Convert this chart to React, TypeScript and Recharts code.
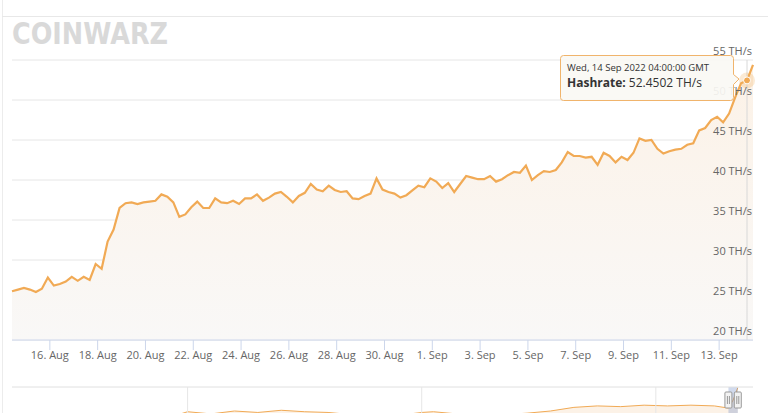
import { AreaChart, Area, XAxis, YAxis, CartesianGrid, Tooltip, ReferenceLine, ReferenceArea } from "recharts"

// hashrate samples, every 6 hours from 14 Aug 2022 10:00 GMT
const START = Date.UTC(2022, 7, 14, 10)
const STEP = 6 * 3600 * 1000

const hashrate = [
  26.1, 26.3, 26.5, 26.3, 26.0, 26.4, 27.8, 26.8, 27.0, 27.3,
  27.9, 27.4, 27.9, 27.5, 29.5, 28.9, 32.3, 33.8, 36.5, 37.1,
  37.2, 37.0, 37.2, 37.3, 37.4, 38.2, 37.9, 37.2, 35.4, 35.7,
  36.6, 37.3, 36.5, 36.5, 37.7, 37.2, 37.1, 37.4, 37.0, 37.7,
  37.7, 38.2, 37.4, 37.8, 38.3, 38.5, 37.9, 37.2, 38.0, 38.4,
  39.5, 38.8, 38.6, 39.3, 38.75, 38.5, 38.6, 37.7, 37.6, 38.0,
  38.3, 40.2, 38.8, 38.5, 38.3, 37.8, 38.1, 38.7, 39.3, 39.1,
  40.2, 39.8, 39.0, 39.6, 38.5, 39.5, 40.5, 40.3, 40.1, 40.1,
  40.5, 39.8, 40.1, 40.6, 41.0, 40.9, 41.8, 40.0, 40.6, 41.1,
  41.0, 41.25, 42.2, 43.5, 43.0, 43.0, 42.8, 42.9, 41.9, 43.4,
  43.0, 42.2, 42.9, 42.5, 43.4, 45.2, 44.9, 45.0, 43.9, 43.3,
  43.6, 43.8, 43.9, 44.4, 44.6, 46.2, 46.5, 47.5, 47.9, 47.2,
  48.3, 50.3, 52.1, 52.4502, 54.4,
]

const xTickDates = [
  "2022-08-16", "2022-08-18", "2022-08-20", "2022-08-22", "2022-08-24",
  "2022-08-26", "2022-08-28", "2022-08-30", "2022-09-01", "2022-09-03",
  "2022-09-05", "2022-09-07", "2022-09-09", "2022-09-11", "2022-09-13",
]
const yTicks = [20, 25, 30, 35, 40, 45, 50, 55]
const MONTHS = ["Jan", "Feb", "Mar", "Apr", "May", "Jun", "Jul", "Aug", "Sep", "Oct", "Nov", "Dec"]

// navigator: long history (year, TH/s)
const navYears = [
  2016.5, 2016.8, 2017.0, 2017.3, 2017.6, 2017.9, 2018.0, 2018.2, 2018.4, 2018.6,
  2018.8, 2019.0, 2019.2, 2019.4, 2019.6, 2019.8, 2020.0, 2020.1, 2020.3, 2020.5,
  2020.7, 2020.9, 2021.1, 2021.3, 2021.5, 2021.7, 2021.9, 2022.1, 2022.3, 2022.5,
  2022.62, 2022.66, 2022.7,
]
const navValues = [
  5, 6, 7, 9, 12, 16, 21, 18, 22, 20,
  23, 21, 20, 17, 14, 16, 20, 21, 18, 16,
  17, 19, 22, 27, 29, 28, 30, 29, 30, 29,
  26, 37, 54,
]
const navYearLines = [2018, 2020, 2022]

const data = hashrate.map((v, i) => ({ t: START + i * STEP, v }))
const END = START + (hashrate.length - 1) * STEP
const xTicks = xTickDates.map((d) => Date.parse(d))
const navData = navYears.map((y, i) => ({ y, v: navValues[i] }))

const ORANGE = "#f1aa55"
const FONT = "'Open Sans', sans-serif"
const NAV_MIN = 2016.5
const NAV_MAX = 2022.83

function fmtDay(t: number) {
  const d = new Date(t)
  return `${d.getUTCDate()}. ${MONTHS[d.getUTCMonth()]}`
}

function YTick(props: any) {
  const { x, y, payload } = props
  return (
    <text x={x} y={y - 5} textAnchor="end" fill="#666" fontSize={11} fontFamily={FONT}>
      {payload.value} TH/s
    </text>
  )
}

function HoverDot(props: any) {
  const { cx, cy } = props
  return (
    <g>
      <circle cx={cx} cy={cy} r={8} fill={ORANGE} fillOpacity={0.25} />
      <circle cx={cx} cy={cy} r={3.5} fill={ORANGE} stroke="#fff" strokeWidth={1} />
    </g>
  )
}

function TipBox(props: any) {
  const { active, payload } = props
  if (!active || !payload || !payload.length) return null
  const p = payload[0].payload
  return (
    <svg width={182} height={50} style={{ display: "block", overflow: "visible" }}>
      <path
        d="M3.5 0.5 H170.5 Q173.5 0.5 173.5 3.5 V19.5 L179 24 L173.5 29.5 V42.5 Q173.5 45.5 170.5 45.5 H3.5 Q0.5 45.5 0.5 42.5 V3.5 Q0.5 0.5 3.5 0.5 Z"
        fill="rgba(250,248,244,0.92)"
        stroke="#f0b46c"
        strokeWidth={1}
      />
      <text x={7} y={16} fontSize={9.5} fill="#333" fontFamily={FONT}>
        {new Date(p.t).toUTCString()}
      </text>
      <text x={7} y={32} fontSize={12} fill="#333" fontFamily={FONT}>
        <tspan fontWeight="bold">Hashrate:</tspan> {p.v.toFixed(4)} TH/s
      </text>
    </svg>
  )
}

function Handle(props: { cx: number }) {
  const { cx } = props
  return (
    <g>
      <rect x={cx - 3.5} y={392} width={7} height={16} fill="#f2f2f2" stroke="#999" strokeWidth={1} rx={1} />
      <line x1={cx - 1} y1={396} x2={cx - 1} y2={404} stroke="#999" />
      <line x1={cx + 1} y1={396} x2={cx + 1} y2={404} stroke="#999" />
    </g>
  )
}

function NavHandles() {
  // handles at the selected range edges on the navigator scale
  const toX = (yr: number) => 12 + ((yr - NAV_MIN) / (NAV_MAX - NAV_MIN)) * 741
  return (
    <g>
      <Handle cx={toX(2022.62)} />
      <Handle cx={toX(2022.7)} />
    </g>
  )
}

export default function App() {
  return (
    <div style={{ position: "absolute", left: 0, top: 0, width: 768, height: 413, overflow: "hidden", background: "#fff" }}>
      <div style={{ position: "absolute", left: 2, top: 0, width: 1, height: 413, background: "#ececec" }} />
      <div style={{ position: "absolute", left: 2, top: 16, width: 766, height: 1, background: "#e8e8e8" }} />
      <svg width={200} height={50} style={{ position: "absolute", left: 0, top: 0 }}>
        <text x={12} y={44} fontSize={30} fontWeight={900} fill="#d9d9d9" fontFamily="'DejaVu Sans', sans-serif" textLength={156} lengthAdjust="spacingAndGlyphs">
          COINWARZ
        </text>
      </svg>

      <AreaChart
        width={768}
        height={413}
        data={data}
        margin={{ top: 60, right: 15, left: 12, bottom: 43 }}
        style={{ position: "absolute", left: 0, top: 0 }}
      >
        <defs>
          <linearGradient id="fillHash" x1="0" y1="0" x2="0" y2="1">
            <stop offset="0%" stopColor="#fcf2e7" />
            <stop offset="100%" stopColor="#f9f8f7" />
          </linearGradient>
        </defs>
        <CartesianGrid vertical={false} stroke="#e6e6e6" />
        <XAxis
          dataKey="t"
          type="number"
          domain={[START, END]}
          ticks={xTicks}
          tickFormatter={fmtDay}
          axisLine={{ stroke: "#ccd6eb" }}
          tickLine={{ stroke: "#ccd6eb" }}
          tickSize={10}
          tickMargin={1}
          height={30}
          tick={{ fill: "#666", fontSize: 11, fontFamily: FONT }}
          interval={0}
        />
        <YAxis
          orientation="right"
          mirror
          domain={[20, 55]}
          ticks={yTicks}
          axisLine={false}
          tickLine={false}
          tickSize={0}
          tickMargin={1}
          tick={<YTick />}
        />
        <Tooltip
          active
          defaultIndex={123}
          position={{ x: 560, y: 55 }}
          content={<TipBox />}
          cursor={{ stroke: "#d8d8d8", strokeWidth: 1 }}
          isAnimationActive={false}
        />
        <Area
          type="linear"
          dataKey="v"
          stroke={ORANGE}
          strokeWidth={2.2}
          fill="url(#fillHash)"
          fillOpacity={1}
          dot={false}
          activeDot={<HoverDot />}
          isAnimationActive={false}
        />
      </AreaChart>

      <AreaChart
        width={768}
        height={41}
        data={navData}
        margin={{ top: 1, right: 15, left: 12, bottom: 0 }}
        style={{ position: "absolute", left: 0, top: 386 }}
      >
        <XAxis dataKey="y" type="number" domain={[NAV_MIN, NAV_MAX]} hide />
        <YAxis domain={[0, 55]} hide />
        <ReferenceLine y={55} stroke="#e0e0e0" />
        {navYearLines.map((yr) => (
          <ReferenceLine key={yr} x={yr} stroke="#e6e6e6" />
        ))}
        <Area
          type="linear"
          dataKey="v"
          stroke={ORANGE}
          strokeWidth={1}
          fill="#fcf2e7"
          fillOpacity={1}
          dot={false}
          isAnimationActive={false}
        />
        <ReferenceArea x1={2022.62} x2={2022.7} y1={0} y2={55} fill="rgba(102,133,194,0.3)" fillOpacity={1} />
      </AreaChart>
      <svg width={768} height={413} style={{ position: "absolute", left: 0, top: 0, pointerEvents: "none" }}>
        <NavHandles />
      </svg>
    </div>
  )
}
